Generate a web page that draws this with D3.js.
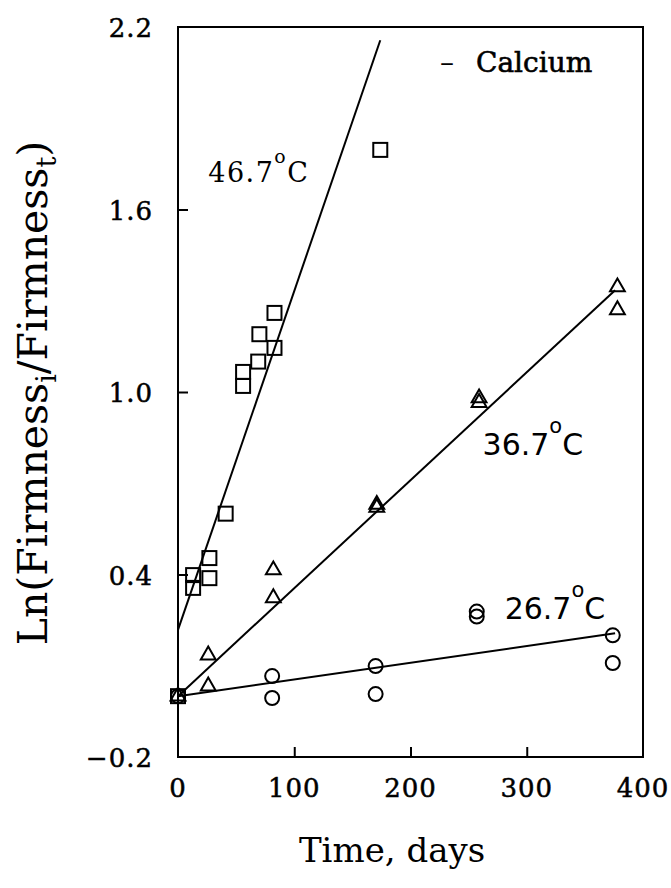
<!DOCTYPE html>
<html>
<head>
<meta charset="utf-8">
<script src="https://cdn.jsdelivr.net/npm/d3@7"></script>
<style>
  body { margin: 0; background: #fff; }
  svg { display: block; }
  .frame { stroke: #000; stroke-width: 2; fill: none; }
  .fit { stroke: #000; stroke-width: 2; fill: none; }
  .marker { stroke: #000; stroke-width: 2; fill: none; }
  .ticklabel { font-family: "DejaVu Serif"; font-size: 26px; stroke: #000; stroke-width: 0.5; letter-spacing: 1px; }
</style>
</head>
<body>
<svg id="chart"></svg>
<script>
// data (time in days, ln(F_i/F_t))
const days46 = [0, 13, 13, 27, 27, 41, 56, 56, 69, 70, 83, 83, 174];
const vals46 = [0, 0.398, 0.356, 0.454, 0.388, 0.60, 1.066, 1.02, 1.10, 1.19, 1.26, 1.145, 1.796];

const days36 = [0, 26, 26, 82, 82, 171, 171, 259, 259, 378, 378];
const vals36 = [0, 0.135, 0.033, 0.415, 0.323, 0.63, 0.62, 0.98, 0.965, 1.345, 1.27];

const days26 = [0, 81, 81, 170, 170, 257, 257, 374, 374];
const vals26 = [0, 0.066, -0.006, 0.099, 0.007, 0.278, 0.262, 0.20, 0.109];

// regression lines: [intercept, slope, last day]
const fit46 = [0.218, 0.01114, 174];
const fit36 = [0.0, 0.00355, 376];
const fit26 = [0.0, 0.00055, 376];

const xTicks = [0, 100, 200, 300, 400];
const yTicks = [-0.2, 0.4, 1.0, 1.6, 2.2];

function createChart() {
    const width = 671;
    const height = 888;
    const margin = { top: 27, right: 28, bottom: 131, left: 178 };

    const svg = d3.select("#chart")
        .attr("width", width)
        .attr("height", height);

    const xScale = d3.scaleLinear()
        .domain([0, 400])
        .range([margin.left, width - margin.right]);

    const yScale = d3.scaleLinear()
        .domain([-0.2, 2.2])
        .range([height - margin.bottom, margin.top]);

    // frame
    svg.append("rect")
        .attr("class", "frame")
        .attr("x", xScale(0))
        .attr("y", yScale(2.2))
        .attr("width", xScale(400) - xScale(0))
        .attr("height", yScale(-0.2) - yScale(2.2));

    // inward ticks
    const xAxis = d3.axisTop(xScale)
        .tickValues(xTicks.slice(1, -1))
        .tickSize(10)
        .tickFormat("");
    svg.append("g")
        .attr("transform", `translate(0, ${yScale(-0.2)})`)
        .call(xAxis)
        .call(g => g.select(".domain").remove())
        .call(g => g.selectAll("line").attr("stroke-width", 2));

    const yAxis = d3.axisRight(yScale)
        .tickValues(yTicks.slice(1, -1))
        .tickSize(10)
        .tickFormat("");
    svg.append("g")
        .attr("transform", `translate(${xScale(0)}, 0)`)
        .call(yAxis)
        .call(g => g.select(".domain").remove())
        .call(g => g.selectAll("line").attr("stroke-width", 2));

    // tick labels
    svg.append("g").selectAll("text")
        .data(xTicks)
        .join("text")
        .attr("class", "ticklabel")
        .attr("x", d => xScale(d))
        .attr("y", yScale(-0.2) + 40)
        .attr("text-anchor", "middle")
        .text(d => d);

    svg.append("g").selectAll("text")
        .data(yTicks)
        .join("text")
        .attr("class", "ticklabel")
        .attr("x", xScale(0) - 25)
        .attr("y", d => yScale(d) + 10)
        .attr("text-anchor", "end")
        .text(d => d < 0 ? "\u2212" + Math.abs(d).toFixed(1) : d.toFixed(1));

    // axis titles
    svg.append("text")
        .attr("x", 392)
        .attr("y", 862)
        .attr("text-anchor", "middle")
        .style("font-family", "DejaVu Serif")
        .style("font-size", "34px")
        .text("Time, days");

    const yTitle = svg.append("text")
        .attr("transform", "translate(47, 393) rotate(-90)")
        .attr("text-anchor", "middle")
        .style("font-family", "DejaVu Serif")
        .style("font-size", "41px");
    yTitle.append("tspan").text("Ln(Firmness");
    yTitle.append("tspan").attr("dy", 9).style("font-size", "27px").text("i");
    yTitle.append("tspan").attr("dy", -9).text("/Firmness");
    yTitle.append("tspan").attr("dy", 9).style("font-size", "27px").text("t");
    yTitle.append("tspan").attr("dy", -9).text(")");

    // fitted lines
    const fits = [fit46, fit36, fit26];
    const line = d3.line()
        .x(d => xScale(d[0]))
        .y(d => yScale(d[1]));
    svg.append("g").selectAll("path")
        .data(fits)
        .join("path")
        .attr("class", "fit")
        .attr("d", f => line([[0, f[0]], [f[2], f[0] + f[1] * f[2]]]));

    // markers
    const pts46 = days46.map((d, i) => [d, vals46[i]]);
    const pts36 = days36.map((d, i) => [d, vals36[i]]);
    const pts26 = days26.map((d, i) => [d, vals26[i]]);

    svg.append("g").selectAll("rect")
        .data(pts46)
        .join("rect")
        .attr("class", "marker")
        .attr("x", d => xScale(d[0]) - 7)
        .attr("y", d => yScale(d[1]) - 7)
        .attr("width", 14)
        .attr("height", 14);

    const tri = d3.symbol().type(d3.symbolTriangle).size(95);
    svg.append("g").selectAll("path")
        .data(pts36)
        .join("path")
        .attr("class", "marker")
        .attr("d", tri)
        .attr("transform", d => `translate(${xScale(d[0])}, ${yScale(d[1])})`);

    svg.append("g").selectAll("circle")
        .data(pts26)
        .join("circle")
        .attr("class", "marker")
        .attr("cx", d => xScale(d[0]))
        .attr("cy", d => yScale(d[1]))
        .attr("r", 7);

    // temperature labels
    const tempLabels = [
        { text: "46.7", x: 26, y: 1.69, font: "DejaVu Serif", size: 27, spacing: 1.5 },
        { text: "36.7", x: 262, y: 0.793, font: "DejaVu Sans", size: 30, spacing: 0 },
        { text: "26.7", x: 281, y: 0.254, font: "DejaVu Sans", size: 30, spacing: 0 }
    ];
    tempLabels.forEach(t => {
        const lab = svg.append("text")
            .attr("x", xScale(t.x))
            .attr("y", yScale(t.y))
            .style("font-family", t.font)
            .style("font-size", t.size + "px")
            .style("letter-spacing", t.spacing + "px");
        lab.append("tspan").text(t.text);
        lab.append("tspan").attr("dy", -t.size * 0.72).style("font-size", (t.size * 0.7) + "px").text("o");
        lab.append("tspan").attr("dy", t.size * 0.72).text("C");
    });

    // legend note
    svg.append("text")
        .attr("x", 440)
        .attr("y", 72)
        .style("font-family", "DejaVu Serif")
        .style("font-size", "28px")
        .text("\u2013");
    svg.append("text")
        .attr("x", 476)
        .attr("y", 72)
        .style("font-family", "DejaVu Serif")
        .style("font-size", "28px")
        .style("stroke", "#000")
        .style("stroke-width", 0.6)
        .text("Calcium");
}

createChart();
</script>
</body>
</html>
